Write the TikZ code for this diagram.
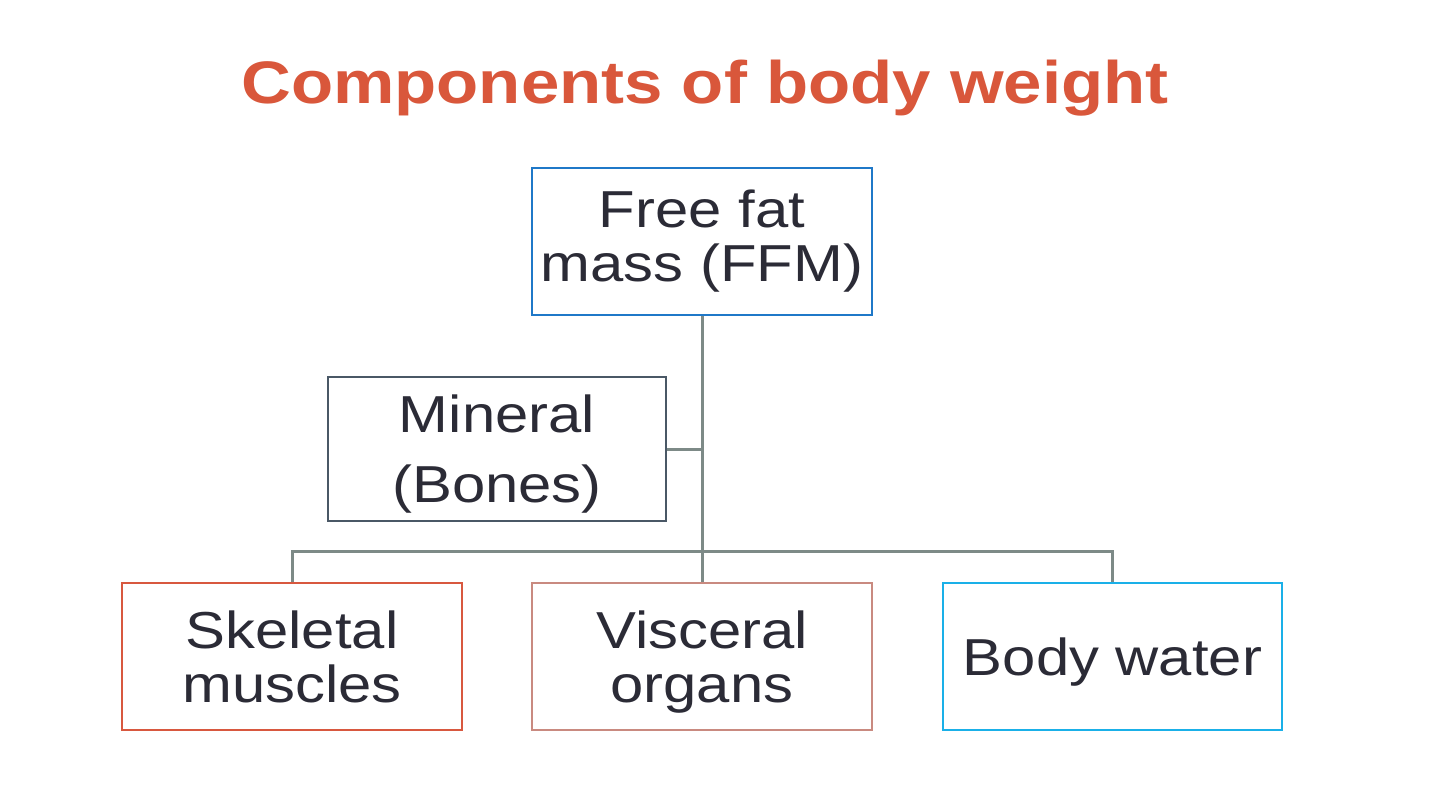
\documentclass[tikz,border=0pt]{standalone}
\usepackage{fontspec}
\setmainfont{Liberation Sans}[FakeStretch=1.15]
\definecolor{titlecol}{HTML}{D9573B}
\definecolor{txtcol}{HTML}{2B2B36}
\definecolor{linecol}{HTML}{7D8A87}
\definecolor{ffmcol}{HTML}{1F78C8}
\definecolor{mincol}{HTML}{4A5866}
\definecolor{skelcol}{HTML}{D8583F}
\definecolor{viscol}{HTML}{C98A80}
\definecolor{watcol}{HTML}{1AB0E8}
\begin{document}
\begin{tikzpicture}[x=1pt,y=-1pt,
  box/.style={draw, rectangle, line width=2.5pt, fill=white, text=txtcol,
    align=center, minimum width=340pt, minimum height=147pt, inner sep=0pt,
    font=\fontsize{52}{54}\selectfont},
  conn/.style={draw=linecol, line width=3pt}]
\useasboundingbox[fill=white] (0,0) rectangle (1439,810);
\node[text=titlecol, font=\fontsize{60}{66}\selectfont\bfseries, anchor=base] (title) at (705,104) {Components of body weight};
\node[box, draw=ffmcol] (ffm) at (702,241.5) {Free fat\\mass (FFM)};
\node[box, draw=mincol, minimum width=338pt, minimum height=144pt, text depth=0pt,
  font=\fontsize{52}{70}\selectfont] (mineral) at (497,449) {Mineral\\(Bones)};
\node[box, draw=skelcol] (skel) at (292,656.5) {Skeletal\\muscles};
\node[box, draw=viscol, text depth=0pt] (visc) at (702,656.5) {Visceral\\organs};
\node[box, draw=watcol, minimum width=339pt, text depth=0pt] (water) at (1112.5,656.5) {Body water};
\draw[conn] (ffm.south) -- (visc.north);
\draw[conn] (mineral.east) -- (mineral.east -| ffm.south);
\draw[conn] (skel.north) -- ++(0,-30) -| (water.north);
\end{tikzpicture}
\end{document}
